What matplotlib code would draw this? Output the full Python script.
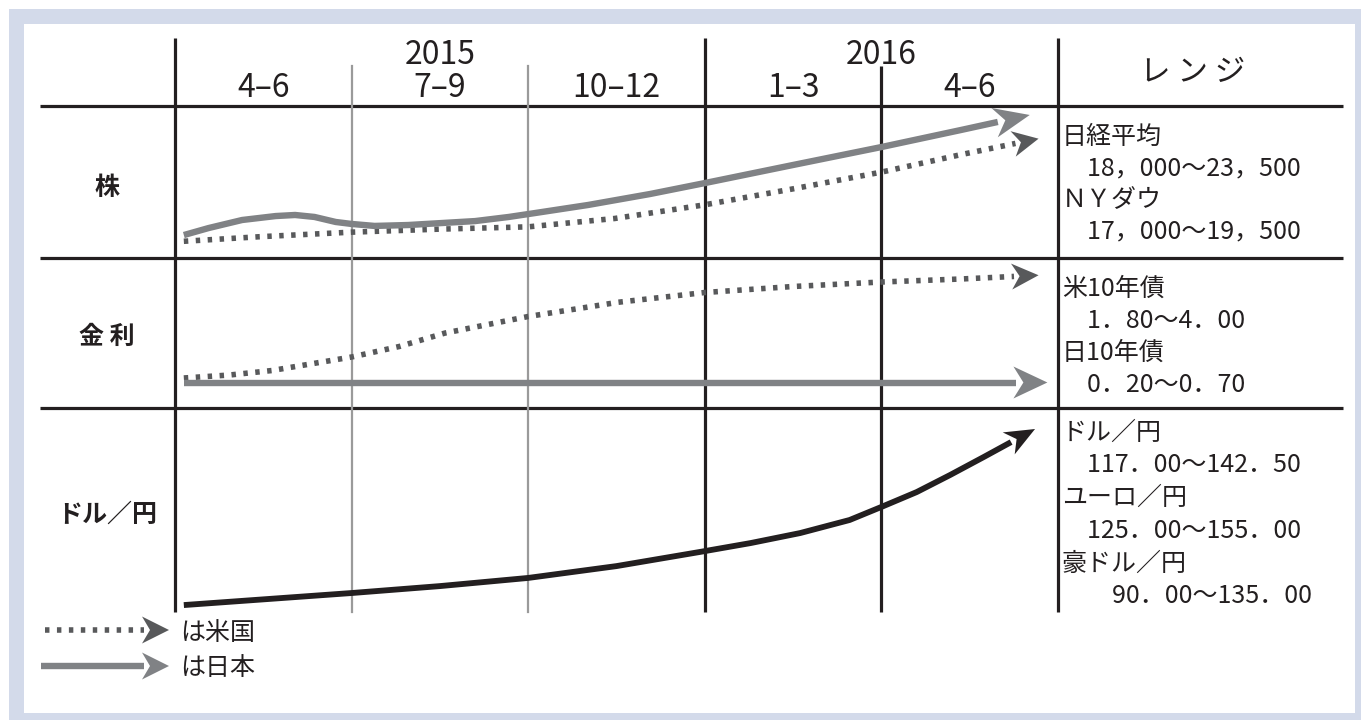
import numpy as np
import matplotlib
matplotlib.use("Agg")
import matplotlib.pyplot as plt
from matplotlib.patches import Rectangle, Polygon

plt.rcParams['font.family'] = ['Noto Sans CJK JP', 'DejaVu Sans']
NARROW = ['Liberation Sans Narrow', 'Noto Sans CJK JP', 'DejaVu Sans']

# header / labels
years = ['2015', '2016']
year_pos = [1.5, 4.0]          # centre, in quarter units
quarters = ['4–6', '7–9', '10–12', '1–3', '4–6']
row_labels = ['株', '金 利', 'ドル／円']
range_title = 'レ ン ジ'
range_text = [
    ['日経平均', '　18，000～23，500', 'ＮＹダウ', '　17，000～19，500'],
    ['米10年債', '　1．80～4．00', '日10年債', '　0．20～0．70'],
    ['ドル／円', '　117．00～142．50', 'ユーロ／円', '　125．00～155．00',
     '豪ドル／円', '　　90．00～135．00'],
]
legend_labels = ['は米国', 'は日本']

# series: x in quarters from 2015 Apr, y = relative level (0-100) in its row
stock_jp_x = [0.05, 0.19, 0.38, 0.57, 0.68, 0.79, 0.91, 1.0, 1.13, 1.32, 1.51, 1.70, 1.89, 2.04,
              2.34, 2.69, 3.0, 3.5, 4.0, 4.45, 4.84]
stock_jp_y = [15.1, 19.7, 25.0, 27.6, 28.3, 27.0, 23.7, 22.4, 21.1, 21.7, 23.0, 24.3, 27.0, 29.6,
              34.9, 42.1, 49.3, 61.2, 73.0, 84.2, 94.1]
stock_us_x = [0.05, 0.48, 1.0, 1.5, 2.0, 2.49, 3.0, 3.5, 4.0, 4.45, 4.89]
stock_us_y = [11, 14, 17, 19, 20.5, 26, 35, 45.5, 56.5, 68, 78.5]
rate_us_x = [0.05, 0.31, 0.55, 1.0, 1.27, 1.53, 2.0, 2.51, 3.0, 3.5, 4.0, 4.45, 4.89]
rate_us_y = [20, 22, 25, 34, 41, 50, 61, 70.5, 77, 81, 84, 86, 88.5]
rate_jp_x = [0.05, 4.94]
rate_jp_y = [17, 17]
fx_x = [0.05, 1.0, 1.5, 2.0, 2.5, 2.97, 3.26, 3.54, 3.82, 4.0, 4.2, 4.39, 4.58, 4.87]
fx_y = [3.4, 9.3, 12.7, 16.7, 22.5, 29.4, 33.8, 38.7, 45.1, 51.5, 58.8, 67.2, 76.0, 89.7]

W, H = 1361, 720
BLACK = '#231f20'
US = '#58595b'
JP = '#808285'
DOTS = (0, (0.8, 1.35))

fig = plt.figure(figsize=(W / 100, H / 100), dpi=100)
ax = fig.add_axes([0, 0, 1, 1])
ax.set_xlim(0, W)
ax.set_ylim(H, 0)
ax.axis('off')

ax.add_patch(Rectangle((9, 9), W - 9, H - 9, fc='#d3daea', ec='none', zorder=0))
ax.add_patch(Rectangle((24, 24), 1331, 689, fc='white', ec='none', zorder=0))

# table grid (pixels)
x0, x1 = 175, 1058
col_w = (x1 - x0) / 5
row_y = [106, 258, 408, 612]
for y in row_y[:3]:
    ax.plot([40, 1343], [y, y], color=BLACK, lw=2.3, solid_capstyle='butt', zorder=1)
for x in [x0, x0 + 3 * col_w, x1]:
    ax.plot([x, x], [38, 612], color=BLACK, lw=2.3, solid_capstyle='butt', zorder=1)
ax.plot([x0 + 4 * col_w] * 2, [66, 612], color=BLACK, lw=2.3, solid_capstyle='butt', zorder=1)
for i in (1, 2):
    ax.plot([x0 + i * col_w] * 2, [66, 612], color='#9a9a9a', lw=1.6, zorder=1)

for yr, p in zip(years, year_pos):
    ax.text(x0 + p * col_w, 55, yr, fontsize=23, family=NARROW, ha='center', va='center', color=BLACK)
for i, q in enumerate(quarters):
    ax.text(x0 + (i + 0.5) * col_w, 88, q, fontsize=23, family=NARROW, ha='center', va='center', color=BLACK)
ax.text(1193, 72, range_title, fontsize=22, ha='center', va='center', color=BLACK)

label_y = [188, 337, 515]
for lab, y in zip(row_labels, label_y):
    ax.text(107, y, lab, fontsize=18, fontweight='bold', ha='center', va='center', color=BLACK)

text_y = [[137, 168, 200, 231], [289, 321, 353, 385], [433, 465, 498, 531, 564, 596]]
for lines, ys in zip(range_text, text_y):
    for t, y in zip(lines, ys):
        ax.text(1062, y, t, fontsize=18, ha='left', va='center', color=BLACK)

# row axes sharing the quarter scale
row_axes = []
for top, bot in zip(row_y[:3], row_y[1:]):
    a = fig.add_axes([x0 / W, 1 - bot / H, (x1 - x0) / W, (bot - top) / H])
    a.set_xlim(0, 5)
    a.set_ylim(0, 100)
    a.axis('off')
    a.patch.set_alpha(0)
    row_axes.append(a)


def arrow(a, xs, ys, color, lw, head_color, L, hw, notch, ls='-'):
    T = a.transData
    pts = T.transform(np.column_stack([xs, ys]))
    tip, prev = pts[-1], pts[-2]
    d = (tip - prev) / np.hypot(*(tip - prev))
    n = np.array([-d[1], d[0]])
    end = tip - d * (L - notch * 0.3)
    line = T.inverted().transform(np.vstack([pts[:-1], end]))
    a.plot(line[:, 0], line[:, 1], color=color, lw=lw, linestyle=ls,
           dash_capstyle='butt', solid_capstyle='butt', solid_joinstyle='round',
           clip_on=False, zorder=3)
    head = np.array([tip, tip - d * L + n * hw, tip - d * (L - notch), tip - d * L - n * hw])
    a.add_patch(Polygon(T.inverted().transform(head), closed=True, fc=head_color,
                        ec='none', clip_on=False, zorder=4))


arrow(row_axes[0], stock_us_x, stock_us_y, US, 4.0, US, 26, 13, 8, DOTS)
arrow(row_axes[0], stock_jp_x, stock_jp_y, JP, 4.6, JP, 36, 15, 11)
arrow(row_axes[1], rate_us_x, rate_us_y, US, 4.0, US, 27, 13, 8, DOTS)
arrow(row_axes[1], rate_jp_x, rate_jp_y, JP, 4.6, JP, 34, 16, 10)
arrow(row_axes[2], fx_x, fx_y, BLACK, 4.2, BLACK, 30, 12.5, 9)

# legend
arrow(ax, [45, 169], [630, 630], US, 4.0, US, 27, 13.5, 8, DOTS)
arrow(ax, [41, 169], [666, 666], JP, 4.6, JP, 27, 13.5, 8)
ax.text(180, 633, legend_labels[0], fontsize=18, ha='left', va='center', color=BLACK)
ax.text(180, 668, legend_labels[1], fontsize=18, ha='left', va='center', color=BLACK)

fig.savefig('out.png', dpi=100)
